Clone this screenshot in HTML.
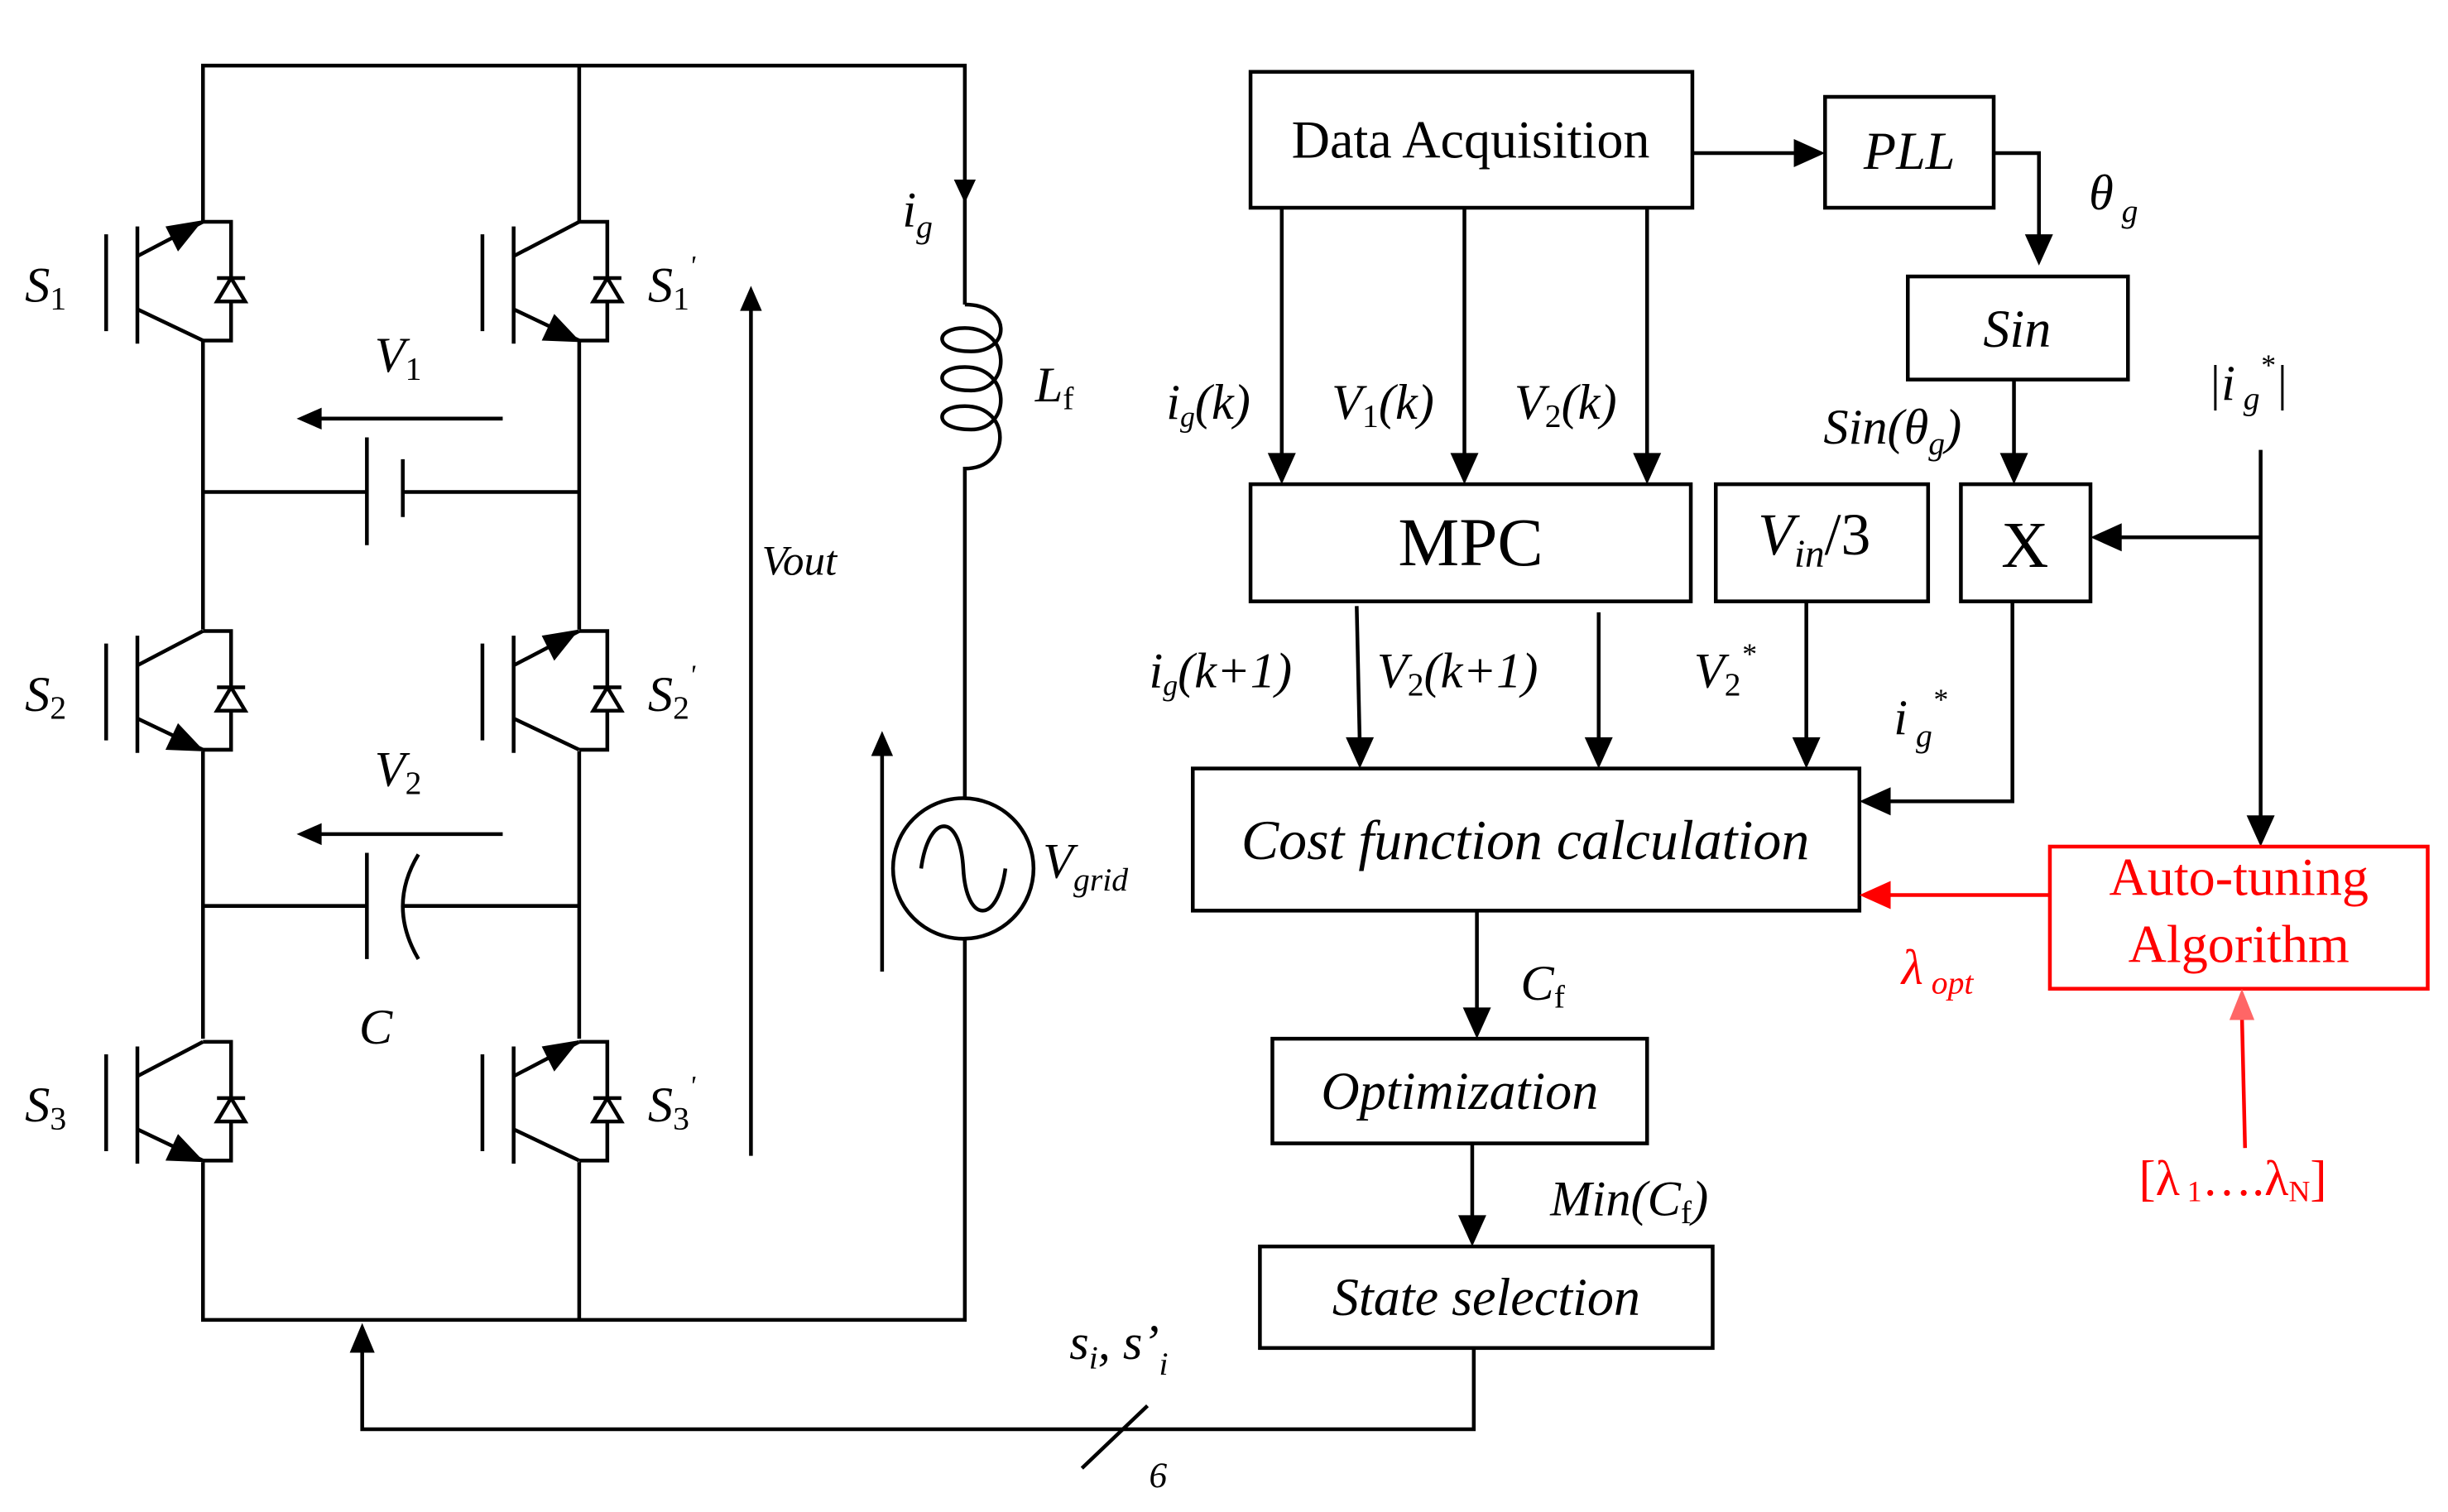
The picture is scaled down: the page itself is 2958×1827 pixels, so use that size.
<!DOCTYPE html>
<html><head><meta charset="utf-8"><style>
html,body{margin:0;padding:0;background:#fff;}
svg{display:block;}
text{font-family:"Liberation Serif",serif;}
.i{font-style:italic;}
.r{fill:#f00;}
</style></head><body>
<svg width="2958" height="1827" viewBox="0 0 1568 968" preserveAspectRatio="none" xmlns="http://www.w3.org/2000/svg">
<defs>
<g id="sw" fill="none" stroke="#000" stroke-width="2.4">
  <path d="M0,0 H18 V76 H0"/>
  <line x1="-42" y1="3" x2="-42" y2="78"/>
  <line x1="-62" y1="8" x2="-62" y2="70"/>
  <line x1="-42" y1="22" x2="0" y2="0"/>
  <line x1="-42" y1="56" x2="0" y2="76"/>
  <polygon points="9,51 27,51 18,36" fill="#fff"/>
  <line x1="9" y1="36" x2="27" y2="36"/>
</g>
<polygon id="at" points="0,-1 -16,19 -24,3" fill="#000"/>
<polygon id="ab" points="1,77 -24,76 -16,59" fill="#000"/>
</defs>
<g fill="none" stroke="#000" stroke-width="2.4">
<path d="M130,142 V42 H618 V195"/>
<line x1="371" y1="42" x2="371" y2="142"/>
<path d="M130,744 V845 H618 V601"/>
<line x1="371" y1="744" x2="371" y2="845"/>
<line x1="130" y1="218" x2="130" y2="403"/>
<line x1="130" y1="481" x2="130" y2="665"/>
<line x1="371" y1="218" x2="371" y2="403"/>
<line x1="371" y1="481" x2="371" y2="665"/>
<line x1="130" y1="315" x2="235" y2="315"/>
<line x1="235" y1="280" x2="235" y2="349"/>
<line x1="258" y1="294" x2="258" y2="331"/>
<line x1="258" y1="315" x2="371" y2="315"/>
<line x1="130" y1="580" x2="235" y2="580"/>
<line x1="235" y1="546" x2="235" y2="614"/>
<path d="M268,547 Q248,580 268,614"/>
<line x1="257" y1="580" x2="371" y2="580"/>
<line x1="322" y1="268" x2="200" y2="268"/>
<line x1="322" y1="534" x2="200" y2="534"/>
<line x1="481" y1="740" x2="481" y2="195"/>
<line x1="565" y1="622" x2="565" y2="480"/>
<path d="M618,195 C648,195 648,225 622,225 C598,225 598,210 618,210 C648,210 648,250 622,250 C598,250 598,235 618,235 C648,235 648,275 622,275 C598,275 598,260 618,260 C648,260 648,300 618,300 V511"/>
<circle cx="617" cy="556" r="45"/>
<path d="M590,556 C595,520 615,520 617,556 C619,592 639,592 644,556"/>
<path d="M944,863 V915 H232 V860"/>
<line x1="693" y1="940" x2="735" y2="900"/>
</g>
<g fill="#000">
<polygon points="611,115 625,115 618,130"/>
<polygon points="190,268 206,261 206,275"/>
<polygon points="190,534 206,527 206,541"/>
<polygon points="481,183 474,199 488,199"/>
<polygon points="565,468 558,484 572,484"/>
<polygon points="232,847 224,866 240,866"/>
</g>
<use href="#sw" x="130" y="142"/><use href="#at" x="130" y="142"/>
<use href="#sw" x="130" y="404"/><use href="#ab" x="130" y="404"/>
<use href="#sw" x="130" y="667"/><use href="#ab" x="130" y="667"/>
<use href="#sw" x="371" y="142"/><use href="#ab" x="371" y="142"/>
<use href="#sw" x="371" y="404"/><use href="#at" x="371" y="404"/>
<use href="#sw" x="371" y="667"/><use href="#at" x="371" y="667"/>
<g font-size="32">
<text x="16" y="193" class="i">S<tspan font-size="21" font-style="normal" dy="5">1</tspan></text>
<text x="16" y="455" class="i">S<tspan font-size="21" font-style="normal" dy="5">2</tspan></text>
<text x="16" y="718" class="i">S<tspan font-size="21" font-style="normal" dy="5">3</tspan></text>
<text x="415" y="193" class="i">S<tspan font-size="21" font-style="normal" dy="5">1</tspan><tspan font-size="18" dy="-22">'</tspan></text>
<text x="415" y="455" class="i">S<tspan font-size="21" font-style="normal" dy="5">2</tspan><tspan font-size="18" dy="-22">'</tspan></text>
<text x="415" y="718" class="i">S<tspan font-size="21" font-style="normal" dy="5">3</tspan><tspan font-size="18" dy="-22">'</tspan></text>
<text x="240" y="238" class="i">V<tspan font-size="21" font-style="normal" dy="5">1</tspan></text>
<text x="240" y="503" class="i">V<tspan font-size="21" font-style="normal" dy="5">2</tspan></text>
<text x="230" y="668" class="i">C</text>
<text x="578" y="145" class="i">i<tspan font-size="21" dy="7">g</tspan></text>
<text x="663" y="257" class="i">L<tspan font-size="21" font-style="normal" dy="5">f</tspan></text>
<text x="668" y="562" class="i">V<tspan font-size="21" dy="8">grid</tspan></text>
<text x="488" y="368" class="i" font-size="27">Vout</text>
<text x="685" y="870" class="i">s<tspan font-size="21" dy="6">i</tspan><tspan dy="-6">, s’</tspan><tspan font-size="21" dy="10">i</tspan></text>
<text x="736" y="952" class="i" font-size="23">6</text>
</g>
<g fill="none" stroke="#000" stroke-width="2.4">
<rect x="801" y="46" width="283" height="87"/>
<rect x="1169" y="62" width="108" height="71"/>
<rect x="1222" y="177" width="141" height="66"/>
<rect x="801" y="310" width="282" height="75"/>
<rect x="1099" y="310" width="136" height="75"/>
<rect x="1256" y="310" width="83" height="75"/>
<rect x="764" y="492" width="427" height="91"/>
<rect x="815" y="665" width="240" height="67"/>
<rect x="807" y="798" width="290" height="65"/>
<line x1="1084" y1="98" x2="1155" y2="98"/>
<path d="M1277,98 H1306 V162"/>
<line x1="1290" y1="243" x2="1290" y2="296"/>
<line x1="1448" y1="288" x2="1448" y2="527"/>
<line x1="1448" y1="344" x2="1354" y2="344"/>
<line x1="821" y1="133" x2="821" y2="296"/>
<line x1="938" y1="133" x2="938" y2="296"/>
<line x1="1055" y1="133" x2="1055" y2="296"/>
<line x1="869" y1="388" x2="871" y2="478"/>
<line x1="1024" y1="392" x2="1024" y2="478"/>
<line x1="1157" y1="385" x2="1157" y2="478"/>
<path d="M1289,385 V513 H1206"/>
<line x1="946" y1="583" x2="946" y2="651"/>
<line x1="943" y1="732" x2="943" y2="784"/>
</g>
<g fill="#000">
<polygon points="1169,98 1149,89 1149,107"/>
<polygon points="1306,170 1297,150 1315,150"/>
<polygon points="1290,310 1281,290 1299,290"/>
<polygon points="1448,542 1439,522 1457,522"/>
<polygon points="1339,344 1359,335 1359,353"/>
<polygon points="821,310 812,290 830,290"/>
<polygon points="938,310 929,290 947,290"/>
<polygon points="1055,310 1046,290 1064,290"/>
<polygon points="871,492 862,472 880,472"/>
<polygon points="1024,492 1015,472 1033,472"/>
<polygon points="1157,492 1148,472 1166,472"/>
<polygon points="1191,513 1211,504 1211,522"/>
<polygon points="946,665 937,645 955,645"/>
<polygon points="943,798 934,778 952,778"/>
</g>
<g stroke="#f00" stroke-width="2.4" fill="none">
<rect x="1313" y="542" width="242" height="91"/>
<line x1="1313" y1="573" x2="1208" y2="573"/>
<line x1="1438" y1="735" x2="1436" y2="650"/>
</g>
<polygon points="1191,573 1211,564 1211,582" fill="#f00"/>
<polygon points="1436,633 1428,653 1444,653" fill="#f66"/>
<g font-size="32">
<text x="942" y="101" text-anchor="middle" font-size="34">Data Acquisition</text>
<text x="1223" y="108" text-anchor="middle" class="i" font-size="34">PLL</text>
<text x="1338" y="134" class="i">θ<tspan font-size="21" dy="8"> g</tspan></text>
<text x="1292" y="222" text-anchor="middle" class="i" font-size="34">Sin</text>
<text x="1168" y="284" class="i">Sin(θ<tspan font-size="21" dy="7">g</tspan><tspan dy="-7">)</tspan></text>
<text x="1414" y="256" class="i">|i<tspan font-size="21" dy="6"> g</tspan><tspan font-size="19" dy="-22">*</tspan><tspan dy="16">|</tspan></text>
<text x="942" y="362" text-anchor="middle" font-size="44">MPC</text>
<text x="1126" y="355" class="i" font-size="38">V<tspan font-size="25" dy="8">in</tspan><tspan dy="-8" font-style="normal">/3</tspan></text>
<text x="1297" y="363" text-anchor="middle" font-size="42">X</text>
<text x="747" y="268" class="i">i<tspan font-size="19" dy="5">g</tspan><tspan dy="-5">(k)</tspan></text>
<text x="853" y="268" class="i">V<tspan font-size="21" font-style="normal" dy="5">1</tspan><tspan dy="-5">(k)</tspan></text>
<text x="970" y="268" class="i">V<tspan font-size="21" font-style="normal" dy="5">2</tspan><tspan dy="-5">(k)</tspan></text>
<text x="736" y="440" class="i">i<tspan font-size="19" dy="5">g</tspan><tspan dy="-5">(k+1)</tspan></text>
<text x="882" y="440" class="i">V<tspan font-size="21" font-style="normal" dy="5">2</tspan><tspan dy="-5">(k+1)</tspan></text>
<text x="1085" y="440" class="i">V<tspan font-size="21" font-style="normal" dy="5">2</tspan><tspan font-size="19" dy="-20">*</tspan></text>
<text x="1213" y="470" class="i">i<tspan font-size="21" dy="8"> g</tspan><tspan font-size="19" dy="-24">*</tspan></text>
<text x="977" y="550" text-anchor="middle" class="i" font-size="36">Cost function calculation</text>
<text x="974" y="640" class="i">C<tspan font-size="21" font-style="normal" dy="5">f</tspan></text>
<text x="935" y="710" text-anchor="middle" class="i" font-size="34">Optimization</text>
<text x="993" y="778" class="i">Min(C<tspan font-size="21" font-style="normal" dy="5">f</tspan><tspan dy="-5">)</tspan></text>
<text x="952" y="842" text-anchor="middle" class="i" font-size="34">State selection</text>
<text x="1434" y="573" text-anchor="middle" font-size="34" class="r">Auto-tuning</text>
<text x="1434" y="616" text-anchor="middle" font-size="34" class="r">Algorithm</text>
<text x="1218" y="630" class="i r">λ<tspan font-size="21" dy="6"> opt</tspan></text>
<text x="1370" y="765" class="r">[λ<tspan font-size="19" dy="4"> 1</tspan><tspan dy="-4">….λ</tspan><tspan font-size="19" dy="4">N</tspan><tspan dy="-4">]</tspan></text>
</g>
</svg>
</body></html>
